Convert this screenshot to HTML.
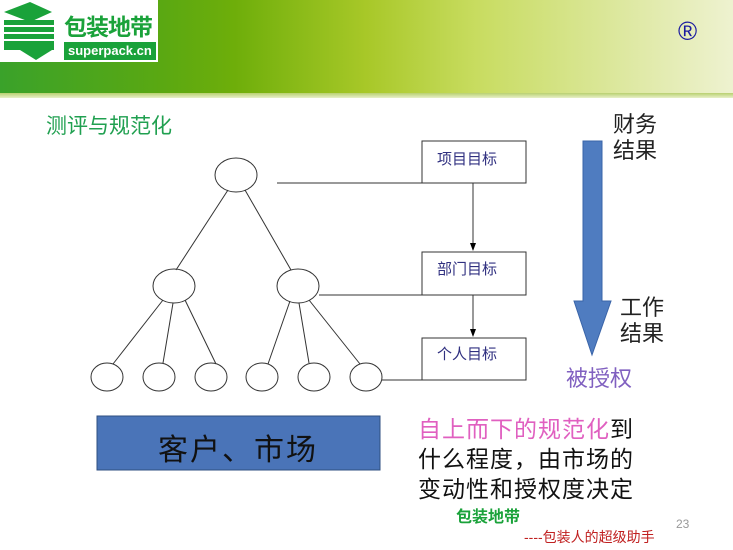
<!DOCTYPE html>
<html><head><meta charset="utf-8"><style>
body{margin:0;width:733px;height:550px;overflow:hidden;background:#fff;font-family:"Liberation Sans","Noto Sans CJK SC",sans-serif;position:relative}
.hdr{position:absolute;left:0;top:0;width:733px;height:98px;background:linear-gradient(90deg,#3aa22a 0%,#5aa812 22%,#6eae0a 32%,#a8c828 50%,#c8dc60 65%,#dde8a0 85%,#eef2d0 100%)}
.hdr:after{content:"";position:absolute;left:0;right:0;bottom:0;height:5px;background:linear-gradient(#b8d070,#e8f0c8)}
.logo{position:absolute;left:0;top:0;width:158px;height:62px;background:#fff}
.t{position:absolute;white-space:nowrap}
</style></head><body>
<div class="hdr"></div>
<div class="logo">
<svg width="158" height="62"><polygon points="4,12 30,2 52,12 30,22" fill="#1aa23a"/><rect x="4" y="20" width="50" height="30" fill="#1aa23a"/><g stroke="#fff" stroke-width="2"><line x1="4" y1="26" x2="54" y2="26"/><line x1="4" y1="33" x2="54" y2="33"/><line x1="4" y1="40" x2="54" y2="40"/></g><polygon points="20,50 52,50 36,60" fill="#1aa23a"/><rect x="64" y="42" width="92" height="18" fill="#1aa23a"/></svg>
<div class="t" style="left:64px;top:8px;font-size:23px;font-weight:bold;color:#1aa23a;letter-spacing:-1px">包装地带</div>
<div class="t" style="left:68px;top:43px;font-size:13px;color:#fff;font-weight:bold">superpack.cn</div>
</div>
<div class="t" style="left:678px;top:16px;font-size:26px;color:#1a1aa0">®</div>
<div class="t" style="left:46px;top:110px;font-size:21px;color:#20a050">测评与规范化</div>
<svg style="position:absolute;left:0;top:0" width="733" height="550">
<defs><marker id="a" markerWidth="8" markerHeight="8" refX="7" refY="4" orient="auto"><path d="M0,1 L8,4 L0,7z" fill="#000"/></marker></defs>
<g stroke="#333" stroke-width="1" fill="none">
<line x1="228" y1="190" x2="176" y2="270"/><line x1="245" y1="190" x2="291" y2="270"/>
<line x1="163" y1="300" x2="113" y2="364"/><line x1="173" y1="303" x2="163" y2="363"/><line x1="185" y1="300" x2="216" y2="364"/>
<line x1="290" y1="301" x2="268" y2="364"/><line x1="299" y1="303" x2="309" y2="363"/><line x1="309" y1="300" x2="360" y2="364"/>
<line x1="277" y1="183" x2="422" y2="183"/><line x1="319" y1="295" x2="422" y2="295"/><line x1="382" y1="380" x2="422" y2="380"/>
<line x1="473" y1="183" x2="473" y2="250" marker-end="url(#a)"/><line x1="473" y1="295" x2="473" y2="336" marker-end="url(#a)"/>
<ellipse cx="236" cy="175" rx="21" ry="17"/><ellipse cx="174" cy="286" rx="21" ry="17"/><ellipse cx="298" cy="286" rx="21" ry="17"/>
<ellipse cx="107" cy="377" rx="16" ry="14"/><ellipse cx="159" cy="377" rx="16" ry="14"/><ellipse cx="211" cy="377" rx="16" ry="14"/><ellipse cx="262" cy="377" rx="16" ry="14"/><ellipse cx="314" cy="377" rx="16" ry="14"/><ellipse cx="366" cy="377" rx="16" ry="14"/>
<rect x="422" y="141" width="104" height="42"/><rect x="422" y="252" width="104" height="43"/><rect x="422" y="338" width="104" height="42"/>
</g>
<polygon points="583,141 602,141 602,301 611,301 592,355 574,301 583,301" fill="#4f7cc0" stroke="#3a64a8"/>
<rect x="97" y="416" width="283" height="54" fill="#4a74b8" stroke="#2f4f80"/>
</svg>
<div class="t" style="left:437px;top:148px;font-size:15px;color:#303080">项目目标</div>
<div class="t" style="left:437px;top:258px;font-size:15px;color:#303080">部门目标</div>
<div class="t" style="left:437px;top:343px;font-size:15px;color:#303080">个人目标</div>
<div class="t" style="left:613px;top:112px;font-size:22px;line-height:26px;color:#222">财务<br>结果</div>
<div class="t" style="left:620px;top:295px;font-size:22px;line-height:26px;color:#222">工作<br>结果</div>
<div class="t" style="left:566px;top:361px;font-size:22px;color:#8060c0">被授权</div>
<div class="t" style="left:158px;top:425px;font-size:30px;letter-spacing:2px;color:#111">客户、市场</div>
<div class="t" style="left:418px;top:414px;font-size:23px;line-height:30px;letter-spacing:1px;color:#111"><span style="color:#e060c0">自上而下的规范化</span>到<br>什么程度，由市场的<br>变动性和授权度决定</div>
<div class="t" style="left:456px;top:503px;font-size:16px;font-weight:bold;color:#1aa23a">包装地带</div>
<div class="t" style="left:524px;top:527px;font-size:14px;color:#c02020">----包装人的超级助手</div>
<div class="t" style="left:676px;top:517px;font-size:12px;color:#999">23</div>
</body></html>
